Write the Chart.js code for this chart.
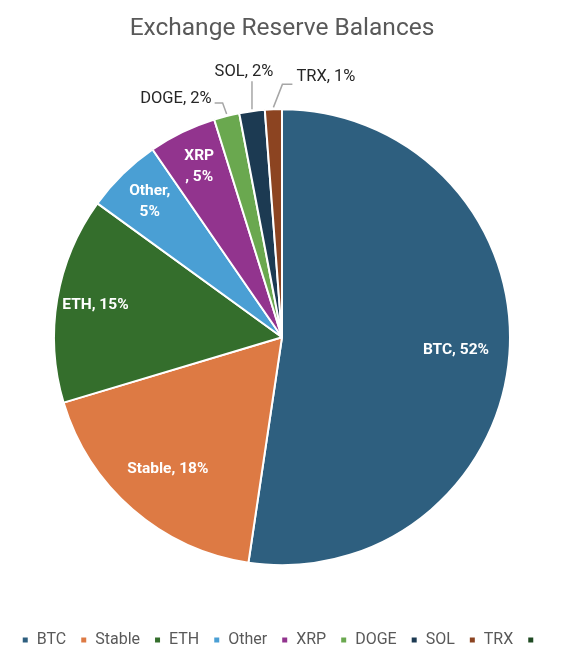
<!DOCTYPE html>
<html>
<head>
<meta charset="utf-8">
<script src="https://cdn.jsdelivr.net/npm/chart.js@4.4.1/dist/chart.umd.min.js"></script>
<style>
  html, body { margin: 0; background: #fff; }
  #wrap { width: 584px; height: 666px; }
</style>
</head>
<body>
<div id="wrap"><canvas id="pie"></canvas></div>
<script>
// chart data
const labels = ['BTC', 'Stable', 'ETH', 'Other', 'XRP', 'DOGE', 'SOL', 'TRX', ''];
const shares = [52.3, 18.0, 14.6, 5.4, 4.8, 1.8, 1.8, 1.2, 0];
const colors = ['#2e5f7f', '#dd7a44', '#346e2c', '#4a9fd4', '#92348e', '#6aa84f', '#1c3a52', '#8c4421', '#1f4a23'];

const FONT = 'Roboto, "Liberation Sans", sans-serif';

// slice labels: inside for the big ones, with leader lines for the thin ones
const outside = {
  5: { elbow: [-4, -13], end: [-12, -13], text: [-15, -17], align: 'right' },
  6: { elbow: [0, -30], end: [0, -30], text: [-8, -39], align: 'center' },
  7: { elbow: [9, -25], end: [19, -25], text: [23, -32], align: 'left' }
};
const breakAt = { 3: 'after', 4: 'before' };

const sliceLabels = {
  id: 'sliceLabels',
  afterDatasetsDraw(chart) {
    const ctx = chart.ctx;
    const meta = chart.getDatasetMeta(0);
    const total = shares.reduce((a, b) => a + b, 0);
    meta.data.forEach((arc, i) => {
      if (!shares[i]) return;
      const p = arc.getProps(['x', 'y', 'startAngle', 'endAngle', 'outerRadius'], true);
      const mid = (p.startAngle + p.endAngle) / 2;
      const pct = Math.round(shares[i] / total * 100) + '%';
      ctx.save();
      ctx.textBaseline = 'middle';
      if (outside[i]) {
        const o = outside[i];
        const ex = p.x + Math.cos(mid) * p.outerRadius;
        const ey = p.y + Math.sin(mid) * p.outerRadius;
        ctx.strokeStyle = '#a6a6a6';
        ctx.lineWidth = 1.5;
        ctx.beginPath();
        ctx.moveTo(ex, ey - 2);
        ctx.lineTo(ex + o.elbow[0], ey + o.elbow[1]);
        ctx.lineTo(ex + o.end[0], ey + o.end[1]);
        ctx.stroke();
        ctx.fillStyle = '#262626';
        ctx.font = '16.5px ' + FONT;
        ctx.textAlign = o.align;
        ctx.fillText(labels[i] + ', ' + pct, ex + o.text[0], ey + o.text[1]);
      } else {
        const f = shares[i] / total > 0.16 ? 0.765 : 0.83;
        const cx = p.x + Math.cos(mid) * p.outerRadius * f;
        const cy = p.y + Math.sin(mid) * p.outerRadius * f;
        ctx.fillStyle = '#ffffff';
        ctx.font = 'bold 15.5px ' + FONT;
        ctx.textAlign = 'center';
        let lines = [labels[i] + ', ' + pct];
        if (breakAt[i] === 'after') lines = [labels[i] + ',', pct];
        if (breakAt[i] === 'before') lines = [labels[i], ', ' + pct];
        const lh = 21;
        lines.forEach((t, k) => ctx.fillText(t, cx, cy + (k - (lines.length - 1) / 2) * lh));
      }
      ctx.restore();
    });
  }
};

new Chart(document.getElementById('pie'), {
  type: 'pie',
  data: {
    labels: labels,
    datasets: [{
      data: shares,
      backgroundColor: colors,
      borderColor: '#ffffff',
      borderWidth: 2
    }]
  },
  options: {
    responsive: true,
    maintainAspectRatio: false,
    animation: false,
    radius: 228,
    layout: { padding: { top: 0, bottom: 8, left: 0, right: 20 } },
    plugins: {
      title: {
        display: true,
        text: 'Exchange Reserve Balances',
        color: '#595959',
        font: { family: FONT, size: 24.5, weight: 'normal' },
        padding: { top: 14, bottom: 13 }
      },
      legend: {
        position: 'bottom',
        labels: {
          color: '#595959',
          font: { family: FONT, size: 16 },
          boxWidth: 7,
          boxHeight: 7,
          padding: 14
        }
      },
      tooltip: { enabled: false }
    }
  },
  plugins: [sliceLabels]
});
</script>
</body>
</html>
